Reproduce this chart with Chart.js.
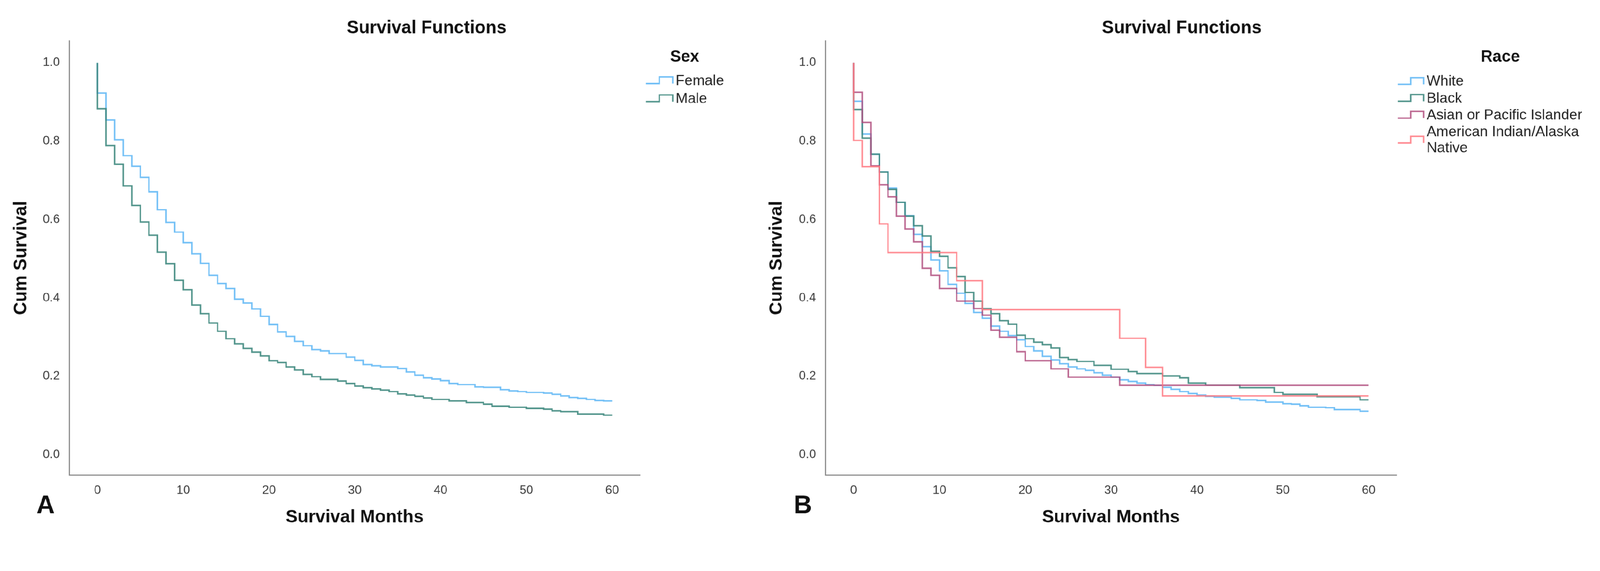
<!DOCTYPE html>
<html>
<head>
<meta charset="utf-8">
<script src="https://cdn.jsdelivr.net/npm/chart.js@4.4.1/dist/chart.umd.min.js"></script>
<style>
html,body{margin:0;padding:0;background:#fff;overflow:hidden}
#wrap{position:absolute;left:0;top:0;width:4306px;height:1463px;background:#fff;transform-origin:0 0}
canvas{position:absolute;top:0}
</style>
</head>
<body>
<div id="wrap">
<canvas id="cA" width="2000" height="1463" style="left:0px;width:2000px;height:1463px"></canvas>
<canvas id="cB" width="2306" height="1463" style="left:2000px;width:2306px;height:1463px"></canvas>
</div>
<script>
// ---------------- data ----------------
const xTicks = [0, 10, 20, 30, 40, 50, 60];
const yTicks = [0.0, 0.2, 0.4, 0.6, 0.8, 1.0];

const sexLabels = ['Female', 'Male'];
// survival value during month interval [k, k+1), k = 0..59
const female = [0.923,0.854,0.804,0.763,0.736,0.708,0.671,0.625,0.593,0.568,
                0.541,0.513,0.488,0.458,0.437,0.424,0.397,0.387,0.372,0.353,
                0.332,0.313,0.302,0.289,0.278,0.268,0.265,0.258,0.258,0.249,
                0.241,0.230,0.227,0.224,0.224,0.220,0.211,0.203,0.196,0.193,
                0.189,0.182,0.179,0.179,0.173,0.172,0.172,0.166,0.163,0.161,
                0.159,0.159,0.157,0.154,0.150,0.146,0.144,0.141,0.138,0.137];
const male   = [0.883,0.789,0.741,0.686,0.636,0.594,0.560,0.517,0.487,0.445,
                0.421,0.382,0.360,0.336,0.315,0.296,0.283,0.271,0.262,0.252,
                0.240,0.235,0.224,0.216,0.205,0.199,0.192,0.192,0.188,0.182,
                0.175,0.171,0.168,0.165,0.161,0.155,0.152,0.149,0.145,0.141,
                0.141,0.137,0.137,0.133,0.133,0.129,0.124,0.124,0.121,0.121,
                0.118,0.118,0.116,0.112,0.110,0.110,0.104,0.104,0.104,0.101];

const raceLabels = ['White', 'Black', 'Asian or Pacific Islander', 'American Indian/Alaska Native'];
const white = [0.902,0.818,0.767,0.722,0.680,0.644,0.610,0.562,0.531,0.497,
               0.469,0.435,0.412,0.386,0.363,0.348,0.328,0.315,0.304,0.293,
               0.276,0.265,0.251,0.242,0.232,0.224,0.219,0.215,0.209,0.203,
               0.198,0.191,0.187,0.183,0.179,0.177,0.172,0.167,0.161,0.156,
               0.152,0.149,0.147,0.147,0.144,0.140,0.140,0.138,0.134,0.134,
               0.130,0.129,0.125,0.121,0.121,0.120,0.115,0.115,0.115,0.111];
const black = [0.881,0.808,0.767,0.721,0.677,0.644,0.609,0.584,0.558,0.519,
               0.506,0.477,0.455,0.414,0.392,0.373,0.360,0.342,0.333,0.305,
               0.296,0.287,0.281,0.272,0.248,0.243,0.238,0.238,0.228,0.228,
               0.218,0.218,0.212,0.207,0.207,0.207,0.201,0.201,0.196,0.183,
               0.183,0.178,0.178,0.178,0.178,0.171,0.171,0.171,0.171,0.159,
               0.154,0.154,0.154,0.154,0.148,0.148,0.148,0.148,0.148,0.140];
const asian = [0.925,0.848,0.737,0.689,0.658,0.609,0.576,0.543,0.476,0.458,
               0.424,0.424,0.392,0.392,0.373,0.356,0.318,0.300,0.300,0.263,
               0.240,0.240,0.240,0.219,0.219,0.198,0.198,0.198,0.198,0.198,
               0.198,0.177,0.177,0.177,0.177,0.177,0.177,0.177,0.177,0.177,
               0.177,0.177,0.177,0.177,0.177,0.177,0.177,0.177,0.177,0.177,
               0.177,0.177,0.177,0.177,0.177,0.177,0.177,0.177,0.177,0.177];
const aian  = [0.802,0.735,0.735,0.589,0.516,0.516,0.516,0.516,0.516,0.516,
               0.516,0.516,0.444,0.444,0.444,0.370,0.370,0.370,0.370,0.370,
               0.370,0.370,0.370,0.370,0.370,0.370,0.370,0.370,0.370,0.370,
               0.370,0.297,0.297,0.297,0.223,0.223,0.150,0.150,0.150,0.150,
               0.150,0.150,0.150,0.150,0.150,0.150,0.150,0.150,0.150,0.150,
               0.150,0.150,0.150,0.150,0.150,0.150,0.150,0.150,0.150,0.150];

// ---------------- page scaling (design space 4306 x 1463) ----------------
const SCALE = Math.min(window.innerWidth / 4306, window.innerHeight / 1463) || 1;
document.getElementById('wrap').style.transform = 'scale(' + SCALE + ')';
const DPR = (window.devicePixelRatio || 1) * SCALE;

// ---------------- helpers ----------------
const FONT = '"Liberation Sans", Arial, sans-serif';
Chart.defaults.font.family = FONT;

function toSteps(vals) {
  const pts = [{x: 0, y: 1.0}];
  vals.forEach((v, i) => pts.push({x: i, y: v}));
  pts.push({x: vals.length, y: vals[vals.length - 1]});
  return pts;
}

function wrapText(ctx, text, maxW) {
  const words = text.split(' ');
  const lines = [];
  let cur = '';
  words.forEach(w => {
    const t = cur ? cur + ' ' + w : w;
    if (ctx.measureText(t).width > maxW && cur) { lines.push(cur); cur = w; }
    else cur = t;
  });
  if (cur) lines.push(cur);
  return lines;
}

const decor = {
  id: 'decor',
  afterDraw(chart, args, o) {
    const ctx = chart.ctx;
    ctx.save();
    ctx.fillStyle = '#111';
    ctx.textBaseline = 'middle';
    ctx.textAlign = 'center';
    ctx.font = 'bold 48px ' + FONT;
    ctx.fillText(o.title, o.titleX, o.titleY);
    ctx.textAlign = 'left';
    ctx.font = 'bold 68px ' + FONT;
    ctx.fillText(o.letter, o.letterX, o.letterY);
    // legend
    ctx.textAlign = 'center';
    ctx.font = 'bold 44px ' + FONT;
    ctx.fillText(o.legTitle, o.legTitleX, o.legTitleY);
    ctx.textAlign = 'left';
    ctx.font = '39px ' + FONT;
    ctx.fillStyle = '#222';
    let y = o.legY;
    chart.data.datasets.forEach(ds => {
      const lines = wrapText(ctx, ds.label, o.legMaxW);
      const cy = y + (lines.length - 1) * o.legLineH / 2;
      ctx.strokeStyle = ds.borderColor;
      ctx.lineWidth = 4;
      ctx.beginPath();
      const sx = o.symX, sw = o.symW;
      ctx.moveTo(sx, cy + 7);
      ctx.lineTo(sx + sw / 2, cy + 7);
      ctx.lineTo(sx + sw / 2, cy - 11);
      ctx.lineTo(sx + sw, cy - 11);
      ctx.lineTo(sx + sw, cy + 7);
      ctx.stroke();
      lines.forEach((ln, i) => ctx.fillText(ln, o.textX, y + i * o.legLineH));
      y += (lines.length - 1) * o.legLineH + o.legStep;
    });
    ctx.restore();
  }
};

function makeChart(id, datasets, cfg) {
  const canvas = document.getElementById(id);
  const W = parseInt(canvas.style.width, 10);
  return new Chart(canvas, {
    type: 'line',
    data: {datasets},
    plugins: [decor],
    options: {
      responsive: false,
      animation: false,
      devicePixelRatio: DPR,
      layout: {padding: {top: 110, right: W - cfg.areaRight, left: 0, bottom: 0}},
      elements: {point: {radius: 0}, line: {tension: 0}},
      plugins: {
        legend: {display: false},
        title: {display: false},
        tooltip: {enabled: false},
        decor: cfg.decor
      },
      scales: {
        x: {
          type: 'linear',
          min: -3.3, max: 63.25,
          grid: {display: false},
          border: {display: true, color: '#8a8a8a', width: 3},
          afterBuildTicks: s => { s.ticks = xTicks.map(v => ({value: v})); },
          afterFit: s => { s.height = 184; },
          ticks: {color: '#3a3a3a', font: {size: 33}, padding: 14, maxRotation: 0,
                  callback: v => String(v)},
          title: {display: true, text: 'Survival Months', color: '#111',
                  font: {size: 48, weight: 'bold'}, padding: {top: 0, bottom: 41}}
        },
        y: {
          type: 'linear',
          min: -0.052, max: 1.056,
          grid: {display: false},
          border: {display: true, color: '#8a8a8a', width: 3},
          afterBuildTicks: s => { s.ticks = yTicks.map(v => ({value: v})); },
          afterFit: s => { s.width = cfg.areaLeft; },
          ticks: {color: '#3a3a3a', font: {size: 33}, padding: 17,
                  callback: v => Number(v).toFixed(1)},
          title: {display: true, text: 'Cum Survival', color: '#111',
                  font: {size: 48, weight: 'bold'}, padding: {top: cfg.yTitlePad, bottom: 0}}
        }
      }
    }
  });
}

const lineBase = {stepped: true, borderWidth: 4, pointRadius: 0, fill: false};

makeChart('cA', [
  Object.assign({label: sexLabels[0], data: toSteps(female), borderColor: 'rgba(100,185,245,0.9)', order: 1}, lineBase),
  Object.assign({label: sexLabels[1], data: toSteps(male), borderColor: 'rgba(62,136,126,0.9)', order: 0}, lineBase)
], {
  areaLeft: 186, areaRight: 1722, yTitlePad: 28,
  decor: {title: 'Survival Functions', titleX: 1148, titleY: 76,
          letter: 'A', letterX: 98, letterY: 1363,
          legTitle: 'Sex', legTitleX: 1842, legTitleY: 154,
          legY: 218, legStep: 48.5, legLineH: 43, legMaxW: 460,
          symX: 1738, symW: 72, textX: 1818}
});

makeChart('cB', [
  Object.assign({label: raceLabels[0], data: toSteps(white), borderColor: 'rgba(100,185,245,0.9)', order: 3}, lineBase),
  Object.assign({label: raceLabels[1], data: toSteps(black), borderColor: 'rgba(62,136,126,0.9)', order: 2}, lineBase),
  Object.assign({label: raceLabels[2], data: toSteps(asian), borderColor: 'rgba(176,78,126,0.85)', order: 1}, lineBase),
  Object.assign({label: raceLabels[3], data: toSteps(aian), borderColor: 'rgba(255,120,128,0.85)', order: 0}, lineBase)
], {
  areaLeft: 221, areaRight: 1758, yTitlePad: 62,
  decor: {title: 'Survival Functions', titleX: 1180, titleY: 76,
          letter: 'B', letterX: 136, letterY: 1363,
          legTitle: 'Race', legTitleX: 2037, legTitleY: 154,
          legY: 220, legStep: 45.5, legLineH: 43, legMaxW: 455,
          symX: 1761, symW: 70, textX: 1839}
});
</script>
</body>
</html>
